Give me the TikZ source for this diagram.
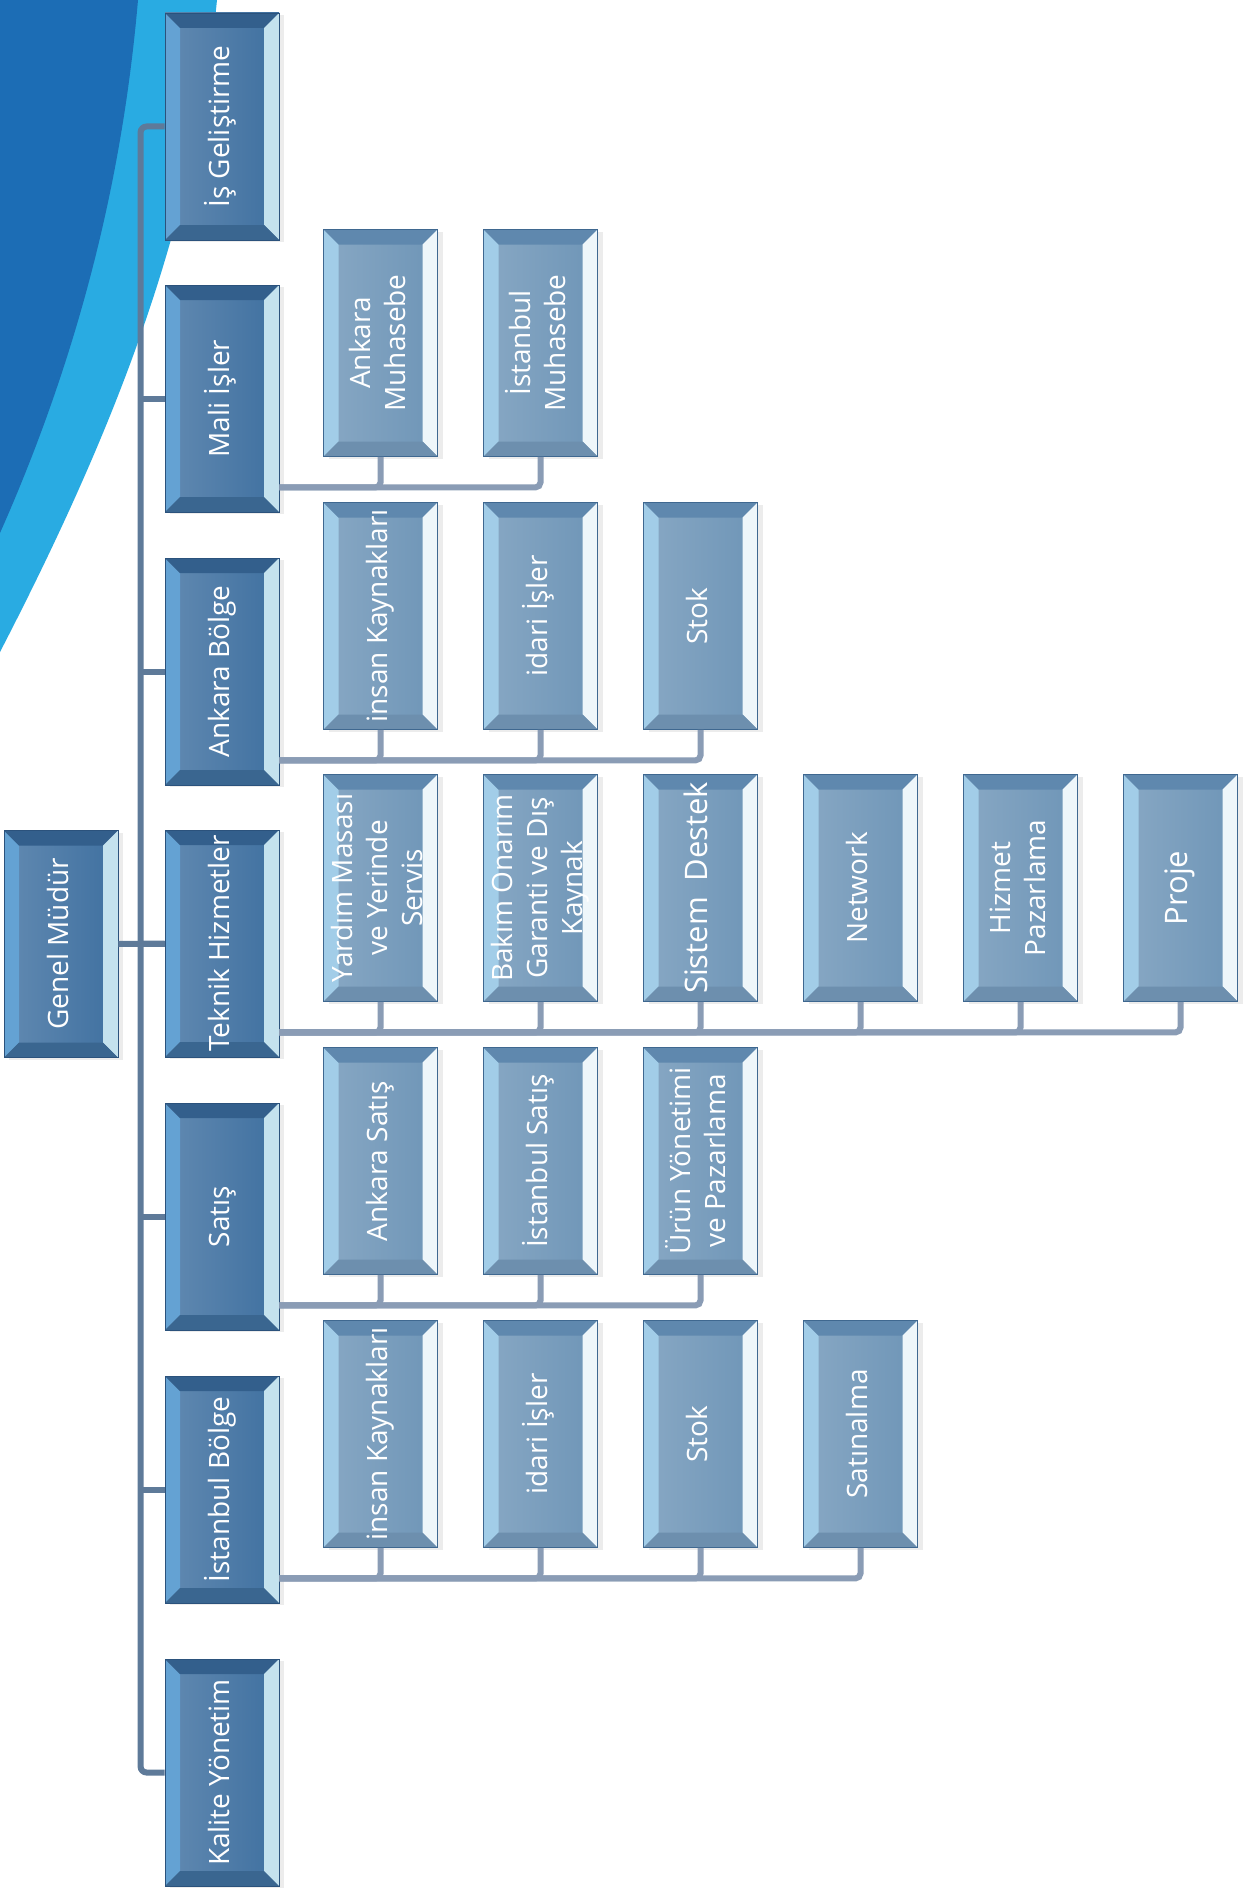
\documentclass[tikz,border=0pt]{standalone}
\usepackage{fontspec}
\setmainfont{Open Sans}
\usetikzlibrary{shadows}
\definecolor{bgdark}{HTML}{1C6DB5}
\definecolor{bglight}{HTML}{29ABE2}
\definecolor{trunkc}{HTML}{5E7A99}
\definecolor{linkc}{HTML}{8A9CB5}
\definecolor{uface}{HTML}{3F70A0}
\definecolor{uleft}{HTML}{64A2D3}
\definecolor{utop}{HTML}{335F8C}
\definecolor{uright}{HTML}{C4E2EE}
\definecolor{ubot}{HTML}{3A6690}
\definecolor{uline}{HTML}{2B527C}
\definecolor{sface}{HTML}{6E95B7}
\definecolor{sleft}{HTML}{A2CDE8}
\definecolor{stop}{HTML}{5F88AE}
\definecolor{sright}{HTML}{EEF6FA}
\definecolor{sbot}{HTML}{6D8FAE}
\definecolor{sline}{HTML}{3F6890}
\newcommand\bevw{15pt}
\newcommand\vt[1]{\rotatebox{90}{\begin{tabular}{@{}c@{}}#1\end{tabular}}}
\tikzset{
  bevelbox/.style n args={6}{rectangle, inner sep=0pt, minimum width=114pt,
    minimum height=227pt, left color=#1!82!white, right color=#1, draw=#6,
    line width=0.8pt, text=white, font=\fontsize{28}{35}\selectfont,
    drop shadow={shadow xshift=5pt, shadow yshift=-2pt, opacity=0.15},
    path picture={
      \fill[#2] (path picture bounding box.north west) -- (path picture bounding box.south west)
        -- ([shift={(\bevw,\bevw)}]path picture bounding box.south west)
        -- ([shift={(\bevw,-\bevw)}]path picture bounding box.north west) -- cycle;
      \fill[#3] (path picture bounding box.north west) -- (path picture bounding box.north east)
        -- ([shift={(-\bevw,-\bevw)}]path picture bounding box.north east)
        -- ([shift={(\bevw,-\bevw)}]path picture bounding box.north west) -- cycle;
      \fill[#4] (path picture bounding box.north east) -- (path picture bounding box.south east)
        -- ([shift={(-\bevw,\bevw)}]path picture bounding box.south east)
        -- ([shift={(-\bevw,-\bevw)}]path picture bounding box.north east) -- cycle;
      \fill[#5] (path picture bounding box.south west) -- (path picture bounding box.south east)
        -- ([shift={(-\bevw,\bevw)}]path picture bounding box.south east)
        -- ([shift={(\bevw,\bevw)}]path picture bounding box.south west) -- cycle;
    }},
  unitbox/.style={bevelbox={uface}{uleft}{utop}{uright}{ubot}{uline}},
  subbox/.style={bevelbox={sface}{sleft}{stop}{sright}{sbot}{sline}},
  trunk/.style={draw=trunkc, line width=6pt, rounded corners=6pt},
  link/.style={draw=linkc, line width=6pt, rounded corners=5pt}
}
\begin{document}
\begin{tikzpicture}[x=1pt,y=-1pt]
\useasboundingbox (0,0) rectangle (1243,1892);
\fill[white] (0,0) rectangle (1243,1892);
\fill[bglight] (0,0) -- (217,0) .. controls (195,220) and (120,420) .. (0,652) -- cycle;
\fill[bgdark] (0,0) -- (138,0) .. controls (125,150) and (90,330) .. (0,533) -- cycle;

\node[unitbox] (gm) at (61,944) {\vt{Genel Müdür}};
\node[unitbox] (isg) at (222,126.5) {\vt{İş Geliştirme}};
\node[unitbox] (mali) at (222,398.5) {\vt{Mali İşler}};
\node[unitbox] (ankb) at (222,671.5) {\vt{Ankara Bölge}};
\node[unitbox] (tek) at (222,943.5) {\vt{Teknik Hizmetler}};
\node[unitbox] (sat) at (222,1216.5) {\vt{Satış}};
\node[unitbox] (istb) at (222,1489.5) {\vt{İstanbul Bölge}};
\node[unitbox] (kal) at (222,1772.5) {\vt{Kalite Yönetim}};

\node[subbox] (mali1) at (380.5,343) {\vt{Ankara\\Muhasebe}};
\node[subbox] (mali2) at (540.5,343) {\vt{İstanbul\\Muhasebe}};
\node[subbox] (ankb1) at (380.5,616) {\vt{insan Kaynakları}};
\node[subbox] (ankb2) at (540.5,616) {\vt{idari İşler}};
\node[subbox] (ankb3) at (700.5,616) {\vt{Stok}};
\node[subbox] (tek1) at (380.5,888) {\vt{Yardım Masası\\ve Yerinde\\Servis}};
\node[subbox] (tek2) at (540.5,888) {\vt{Bakım Onarım\\Garanti ve Dış\\Kaynak}};
\node[subbox] (tek3) at (700.5,888) {\vt{\fontsize{31}{36}\selectfont Sistem\hspace{.5em}Destek}};
\node[subbox] (tek4) at (860.5,888) {\vt{Network}};
\node[subbox] (tek5) at (1020.5,888) {\vt{Hizmet\\Pazarlama}};
\node[subbox] (tek6) at (1180.5,888) {\vt{\fontsize{31}{36}\selectfont Proje}};
\node[subbox] (sat1) at (380.5,1161) {\vt{Ankara Satış}};
\node[subbox] (sat2) at (540.5,1161) {\vt{İstanbul Satış}};
\node[subbox] (sat3) at (700.5,1161) {\vt{Ürün Yönetimi\\ve Pazarlama}};
\node[subbox] (istb1) at (380.5,1434) {\vt{insan Kaynakları}};
\node[subbox] (istb2) at (540.5,1434) {\vt{idari İşler}};
\node[subbox] (istb3) at (700.5,1434) {\vt{Stok}};
\node[subbox] (istb4) at (860.5,1434) {\vt{Satınalma}};

\draw[trunk] (isg.west) -- ++(-24pt,0pt) |- (kal.west);
\foreach \n in {mali,ankb,tek,sat,istb}
  \draw[trunk] (\n.west) -- ++(-24pt,0pt);
\draw[trunk] (gm.east) -- (tek.west);
\foreach \p/\k in {mali/2,ankb/3,tek/6,sat/3,istb/4} {
  \coordinate (\p-bus) at ([yshift=25pt]\p.south east);
  \foreach \i in {1,...,\k}
    \draw[link] (\p\i.south) |- (\p-bus);
}
\end{tikzpicture}
\end{document}
